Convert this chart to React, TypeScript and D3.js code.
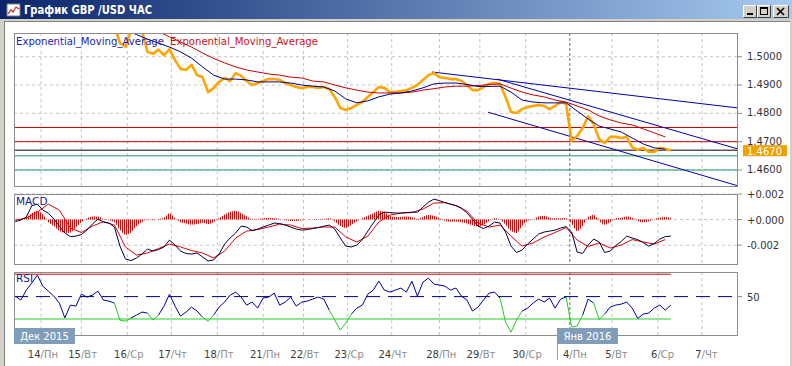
import * as d3 from 'd3';

// hourly bars, bar 0 = 14 Dec 00:00; every series sample is START_BAR + i*STEP
const START_BAR = -14;
const STEP = 3;
const EMA_STEP = 6;

const dayBars = [0, 22, 47, 71, 96, 121, 143, 167, 191, 217, 239, 264, 288, 311, 336, 360];
const dayNums = ['14', '15', '16', '17', '18', '21', '22', '23', '24', '28', '29', '30', '4', '5', '6', '7'];
const dayNames = ['Пн', 'Вт', 'Ср', 'Чт', 'Пт', 'Пн', 'Вт', 'Ср', 'Чт', 'Пн', 'Вт', 'Ср', 'Пн', 'Вт', 'Ср', 'Чт'];
const monthLabels = ['Дек 2015', 'Янв 2016'];
const monthBars = [-14.7, 281];
const monthSplitBar = 288;

const priceTicks = [1.5, 1.49, 1.48, 1.47, 1.46];
const macdTicks = [0.002, 0, -0.002];
const macdTickLabels = ['+0.002', '+0.000', '-0.002'];
const lastPrice = 1.467;

const redLevels = [1.475, 1.47];
const greenLevels = [1.465, 1.46];
const rsiLevels = [70, 50, 30];

// [bar1, price1, bar2, price2]
const trendLines = [
  [212.9, 1.4946, 379.6, 1.4819],
  [248.4, 1.4921, 379.6, 1.4674],
  [243.5, 1.4804, 379.6, 1.4544],
];

const close = [
  1.515, 1.516, 1.5175, 1.519, 1.5195, 1.517, 1.5155, 1.514, 1.512, 1.5105,
  1.5112, 1.511, 1.513, 1.5125, 1.513, 1.514, 1.5125, 1.512, 1.511, 1.5048,
  1.5035, 1.5092, 1.5098, 1.5091, 1.5017, 1.501, 1.5025, 1.5005, 1.5027, 1.4988,
  1.4957, 1.4953, 1.4971, 1.4935, 1.4928, 1.4875, 1.4889, 1.4911, 1.4925, 1.4914,
  1.4942, 1.4932, 1.4914, 1.49, 1.4907, 1.4914, 1.4921, 1.4921, 1.4918, 1.4907,
  1.49, 1.4893, 1.4889, 1.4893, 1.4893, 1.489, 1.4893, 1.4886, 1.4858, 1.4819,
  1.4812, 1.4819, 1.483, 1.484, 1.4858, 1.4875, 1.4893, 1.489, 1.4875, 1.4875,
  1.4879, 1.4882, 1.489, 1.49, 1.4918, 1.4935, 1.4942, 1.4928, 1.4925, 1.4921,
  1.4921, 1.4914, 1.49, 1.4882, 1.4882, 1.4893, 1.4904, 1.4907, 1.4904, 1.4858,
  1.4805, 1.4801, 1.4815, 1.4822, 1.4826, 1.483, 1.4826, 1.4815, 1.4826, 1.484,
  1.4833, 1.4702, 1.472, 1.4748, 1.479, 1.4762, 1.4709, 1.4695, 1.4717, 1.4717,
  1.4713, 1.4717, 1.4681, 1.4671, 1.4678, 1.4664, 1.4664, 1.4678, 1.4674, 1.467,
];

const emaFast = [
  1.514, 1.5145, 1.5155, 1.5158, 1.515, 1.514, 1.5132, 1.513, 1.5128, 1.5115,
  1.5095, 1.5078, 1.5062, 1.5048, 1.5034, 1.5017, 1.4995, 1.4964, 1.4935, 1.4921,
  1.4921, 1.4918, 1.4911, 1.4911, 1.4911, 1.4907, 1.49, 1.4896, 1.4893, 1.4879,
  1.4851, 1.4837, 1.4844, 1.4858, 1.4868, 1.4872, 1.4879, 1.489, 1.4904, 1.4907,
  1.4907, 1.4902, 1.4895, 1.4895, 1.4896, 1.4875, 1.4847, 1.484, 1.4837, 1.4837,
  1.4837, 1.4808, 1.478, 1.4755, 1.4745, 1.4734, 1.4713, 1.4692, 1.4678, 1.4674,
];

const emaSlow = [
  1.512, 1.5125, 1.513, 1.5135, 1.5135, 1.5133, 1.513, 1.5128, 1.5126, 1.5122,
  1.5115, 1.5105, 1.5095, 1.5089, 1.507, 1.5052, 1.5034, 1.5013, 1.4994, 1.4978,
  1.4964, 1.4953, 1.4946, 1.4939, 1.4935, 1.4928, 1.4925, 1.4914, 1.4911, 1.49,
  1.489, 1.4882, 1.4875, 1.4872, 1.4872, 1.4872, 1.4875, 1.4882, 1.4887, 1.4893,
  1.4896, 1.4896, 1.4898, 1.4902, 1.4904, 1.4889, 1.4875, 1.4865, 1.4858, 1.4847,
  1.484, 1.4826, 1.4812, 1.4791, 1.4777, 1.4766, 1.4759, 1.4745, 1.4731, 1.4717,
];

const macdMain = [
  -0.00016, -0.00004, 0.0002, 0.00109, 0.00121, 0.00074, 0.00051, 0.00004, -0.00051, -0.00105,
  -0.00133, -0.00129, -0.00117, -0.00082, -0.00035, 0.00004, -0.00019, -0.00027, -0.00058, -0.00207,
  -0.00308, -0.0032, -0.003, -0.00269, -0.0023, -0.00246, -0.00234, -0.00214, -0.0016, -0.00199,
  -0.00246, -0.00265, -0.00269, -0.00261, -0.00292, -0.00323, -0.00316, -0.00269, -0.00191, -0.00144,
  -0.00105, -0.00051, -0.00058, -0.00086, -0.00074, -0.00058, -0.00043, -0.00027, -0.00031, -0.00043,
  -0.00058, -0.00074, -0.00082, -0.00078, -0.0007, -0.00062, -0.00051, -0.00043, -0.00074, -0.00144,
  -0.00207, -0.00214, -0.00199, -0.00156, -0.0009, -0.00027, 0.00035, 0.00058, 0.00055, 0.00051,
  0.00051, 0.00055, 0.00058, 0.00058, 0.00097, 0.00136, 0.0016, 0.00148, 0.00133, 0.00121,
  0.00109, 0.0009, 0.00051, 0.00004, -0.00051, -0.0007, -0.00051, -0.00019, -0.00027, -0.00097,
  -0.00207, -0.00257, -0.00238, -0.00191, -0.00152, -0.00113, -0.00097, -0.0009, -0.00082, -0.00066,
  -0.00055, -0.00097, -0.00253, -0.00265, -0.00199, -0.00152, -0.00175, -0.00257, -0.00246, -0.00203,
  -0.00171, -0.00129, -0.00144, -0.00156, -0.00179, -0.00207, -0.00187, -0.00152, -0.00133, -0.00129,
];

const macdSignal = [
  -0.00004, 0.00012, 0.00058, 0.00121, 0.00074, -0.00066, -0.00101, -0.00051, -0.00016, -0.00043,
  -0.00214, -0.00277, -0.00261, -0.00226, -0.00191, -0.00214, -0.00242, -0.00261, -0.003, -0.00246,
  -0.00144, -0.0009, -0.00078, -0.00058, -0.00035, -0.00043, -0.0007, -0.00066, -0.00058, -0.00058,
  -0.00136, -0.00175, -0.00129, -0.00019, 0.00035, 0.00051, 0.00055, 0.00082, 0.00129, 0.00133,
  0.00109, 0.00066, -0.00027, -0.00058, -0.00043, -0.00129, -0.00207, -0.00183, -0.00136, -0.00101,
  -0.00062, -0.0016, -0.0021, -0.00183, -0.00222, -0.00199, -0.00156, -0.00175, -0.00191, -0.00156,
];

const macdHist = [
  -0.00005, -0.00003, 0.0002, 0.0005, 0.0007, 0.0004, -0.0002, -0.0005, -0.0009, -0.00105,
  -0.001, -0.0006, -0.0002, 0.0001, 0.00025, 0.00025, 0.00005, -0.00005, -0.0002, -0.0008,
  -0.0012, -0.001, -0.0005, -0.0002, 0.00005, -0.00005, 0.00005, 0.00015, 0.0005, 0.0001,
  -0.0002, -0.0003, -0.0004, -0.00035, -0.00025, -0.00035, -0.0002, 0.0001, 0.0004, 0.0006,
  0.0007, 0.0005, 0.00025, 0.00005, 0.00005, 0.0001, 0.00015, 0.0001, 0.00005, -0.00005,
  -0.0001, -0.0001, -0.00005, 0, 0.00005, 0.00005, 0.00005, 0.0001, -0.00015, -0.0005,
  -0.00065, -0.0004, -0.00015, 0.0001, 0.0003, 0.0005, 0.0007, 0.0006, 0.0003, 0.0002,
  0.0002, 0.00025, 0.0002, 0.00005, 0.0002, 0.00035, 0.0003, 0.0001, -0.0001, -0.00015,
  -0.00015, -0.0002, -0.0003, -0.00045, -0.00055, -0.0004, -0.0001, 0.0001, 0, -0.0004,
  -0.0009, -0.00105, -0.0005, -0.0001, 0, 0.00025, 0.0003, 0.00015, 0.0001, 0.0001,
  0.0001, -0.0003, -0.0009, -0.0005, 0.0002, 0.00035, -0.0001, -0.0004, -0.0002, 0.0001,
  0.00015, 0.00025, 0.00015, -0.0001, -0.0002, -0.00015, 0.00005, 0.00015, 0.0002, 0.00015,
];

const rsi = [
  50.4, 46.9, 55.8, 62.1, 69.2, 59.4, 54.9, 50.4, 44.2, 31.0,
  42.4, 41.5, 52.2, 49.6, 51.3, 54.9, 46.9, 46.0, 44.2, 29.0,
  28.1, 30.8, 33.5, 36.2, 35.3, 29.0, 33.5, 41.5, 52.2, 41.5,
  32.6, 36.2, 40.6, 37.1, 31.7, 28.1, 33.5, 40.6, 45.1, 51.3,
  54.0, 49.6, 42.4, 45.1, 39.7, 48.7, 49.6, 53.1, 42.4, 45.1,
  49.6, 41.5, 45.1, 46.0, 47.8, 49.6, 47.8, 37.9, 29.0, 20.1,
  26.3, 34.4, 39.7, 42.4, 52.2, 55.8, 63.8, 55.8, 54.0, 55.8,
  57.6, 54.0, 63.8, 50.4, 62.9, 66.5, 61.2, 60.3, 59.4, 55.8,
  57.6, 50.4, 46.9, 37.1, 40.6, 46.9, 53.1, 54.0, 48.7, 27.2,
  18.3, 29.0, 37.1, 39.7, 44.2, 47.8, 45.1, 48.7, 39.7, 47.8,
  49.6, 22.8, 23.7, 33.5, 47.8, 44.2, 29.5, 34.4, 40.6, 42.4,
  43.3, 45.1, 39.7, 30.5, 34.4, 35.3, 39.7, 42.4, 37.9, 42.4,
];

const W = 792;
const H = 366;
const L = 14;
const R = 738;
const mainP = { top: 33, bottom: 187 };
const macdP = { top: 194, bottom: 265 };
const rsiP = { top: 272, bottom: 336 };
const FONT = 'DejaVu Sans, Verdana, sans-serif';
const GRID = '#c4c4c4';
const BORDER = '#8c8c8c';

const x = d3.scaleLinear().domain([0, 360]).range([41, 702]);
const yP = d3.scaleLinear().domain([1.46, 1.5]).range([170, 56.7]);
const yM = d3.scaleLinear().domain([-0.002, 0.002]).range([245.2, 194]);
const yR = d3.scaleLinear().domain([30, 70]).range([319, 274.2]);

const barAt = (i: number, step: number) => START_BAR + i * step;

function seriesLine(y: d3.ScaleLinear<number, number>, step: number) {
  return d3
    .line<number>()
    .x((d, i) => x(barAt(i, step)))
    .y((d) => y(d));
}

function Panel({ id, top, bottom }: { id: string; top: number; bottom: number }) {
  return (
    <g>
      <clipPath id={id}>
        <rect x={L} y={top} width={R - L} height={bottom - top} />
      </clipPath>
      {dayBars.map((b, i) =>
        b === monthSplitBar ? null : (
          <line key={i} x1={x(b)} x2={x(b)} y1={top} y2={bottom} stroke={GRID} strokeDasharray="3,3" />
        ),
      )}
      <line x1={x(monthSplitBar)} x2={x(monthSplitBar)} y1={top} y2={bottom} stroke="#6e6e6e" strokeDasharray="3,2" />
    </g>
  );
}

function Button({ bx, w, kind }: { bx: number; w: number; kind: string }) {
  const by = 5;
  const h = 13;
  return (
    <g>
      <rect x={bx} y={by} width={w} height={h} fill="#d4d0c8" />
      <path d={`M${bx + 0.5},${by + h - 0.5}V${by + 0.5}H${bx + w - 0.5}`} stroke="#fff" fill="none" />
      <path d={`M${bx + 0.5},${by + h - 0.5}H${bx + w - 0.5}V${by + 0.5}`} stroke="#404040" fill="none" />
      {kind === 'min' && <rect x={bx + 4} y={by + 8} width={6} height={2} fill="#000" />}
      {kind === 'max' && (
        <g>
          <rect x={bx + 3.5} y={by + 2.5} width={7} height={7} fill="none" stroke="#000" />
          <rect x={bx + 3} y={by + 2} width={8} height={2} fill="#000" />
        </g>
      )}
      {kind === 'close' && (
        <path
          d={`M${bx + 4},${by + 3}L${bx + w - 5},${by + h - 3}M${bx + w - 5},${by + 3}L${bx + 4},${by + h - 3}`}
          stroke="#000"
          strokeWidth={1.6}
        />
      )}
    </g>
  );
}

export default function App() {
  const priceLine = seriesLine(yP, STEP)(close) ?? '';
  const fastLine = seriesLine(yP, EMA_STEP)(emaFast) ?? '';
  const slowLine = seriesLine(yP, EMA_STEP)(emaSlow) ?? '';
  const macdLine = seriesLine(yM, STEP)(macdMain) ?? '';
  const signalLine = seriesLine(yM, EMA_STEP)(macdSignal) ?? '';
  const histArea =
    d3
      .area<number>()
      .x((d, i) => x(barAt(i, STEP)))
      .y0(yM(0))
      .y1((d) => yM(d))
      .curve(d3.curveMonotoneX)(macdHist) ?? '';

  // RSI drawn segment by segment, green where it dips under 30
  const rsiSegs = rsi.slice(1).map((v, i) => {
    const prev = rsi[i];
    return {
      d: `M${x(barAt(i, STEP))},${yR(prev)}L${x(barAt(i + 1, STEP))},${yR(v)}`,
      low: v < 30 || prev < 30,
    };
  });

  const lastX = x(barAt(rsi.length - 1, STEP));

  return (
    <div style={{ position: 'absolute', left: 0, top: 0 }}>
      <svg width={W} height={H} style={{ display: 'block' }} fontFamily={FONT}>
        <defs>
          <linearGradient id="titleGrad" x1="0" x2="1" y1="0" y2="0">
            <stop offset="0" stopColor="#0a246a" />
            <stop offset="1" stopColor="#a6caf0" />
          </linearGradient>
          <pattern id="histHatch" width="2" height="4" patternUnits="userSpaceOnUse">
            <rect x="0" y="0" width="1" height="4" fill="#e00000" />
          </pattern>
        </defs>

        {/* window frame */}
        <rect x={0} y={0} width={W} height={H} fill="#d4d0c8" />
        <rect x={0} y={0} width={W} height={19} fill="url(#titleGrad)" />
        <rect x={5} y={22} width={W - 7} height={H - 22} fill="#fff" />
        <line x1={4.5} x2={4.5} y1={21} y2={H} stroke="#808080" />
        <line x1={4} x2={W - 2} y1={21.5} y2={21.5} stroke="#808080" />

        {/* title */}
        <rect x={7} y={4} width={13} height={12} fill="#fff" stroke="#7a7a7a" />
        <path d="M8,14L11,10L13,12L16,7L19,9" stroke="#d02020" fill="none" strokeWidth={1.2} />
        <text x={24} y={14} fill="#fff" fontWeight="bold" fontSize={11.5} textLength={128} lengthAdjust="spacingAndGlyphs">
          График GBP /USD  ЧАС
        </text>
        <Button bx={743} w={14} kind="min" />
        <Button bx={757} w={14} kind="max" />
        <Button bx={773} w={16} kind="close" />

        {/* ---------- main panel ---------- */}
        <Panel id="clipMain" top={mainP.top} bottom={mainP.bottom} />
        {priceTicks.map((t) => (
          <g key={t}>
            <line x1={L} x2={R} y1={yP(t)} y2={yP(t)} stroke={GRID} strokeDasharray="3,3" />
            <line x1={R} x2={R + 4} y1={yP(t)} y2={yP(t)} stroke={BORDER} />
            <text x={747} y={yP(t) + 3} fontSize={10} fill="#333">
              {t.toFixed(4)}
            </text>
          </g>
        ))}
        <g clipPath="url(#clipMain)">
          {redLevels.map((p) => (
            <line key={p} x1={L} x2={R} y1={yP(p)} y2={yP(p)} stroke="#d00000" />
          ))}
          {greenLevels.map((p) => (
            <line key={p} x1={L} x2={R} y1={yP(p)} y2={yP(p)} stroke="#229966" />
          ))}
          <line x1={L} x2={R} y1={yP(lastPrice)} y2={yP(lastPrice)} stroke="#000" />
          {trendLines.map((t, i) => (
            <line key={i} x1={x(t[0])} y1={yP(t[1])} x2={x(t[2])} y2={yP(t[3])} stroke="#0000b0" />
          ))}
          <path d={priceLine} fill="none" stroke="#ffa500" strokeWidth={2.6} strokeLinejoin="round" />
          <path d={slowLine} fill="none" stroke="#c80000" strokeWidth={1} />
          <path d={fastLine} fill="none" stroke="#000090" strokeWidth={1} />
        </g>
        <rect x={L + 0.5} y={mainP.top + 0.5} width={R - L - 1} height={mainP.bottom - mainP.top - 1} fill="none" stroke={BORDER} />
        <text x={16} y={45} fontSize={10} fill="#1a1ab4" textLength={148} lengthAdjust="spacingAndGlyphs">
          Exponential_Moving_Average
        </text>
        <text x={170} y={45} fontSize={10} fill="#d01010" textLength={148} lengthAdjust="spacingAndGlyphs">
          Exponential_Moving_Average
        </text>
        <rect x={743} y={yP(lastPrice) - 5} width={44} height={11} fill="#f0a000" />
        <text x={747} y={yP(lastPrice) + 4.5} fontSize={10} fill="#fff">
          {lastPrice.toFixed(4)}
        </text>

        {/* ---------- MACD panel ---------- */}
        <Panel id="clipMacd" top={macdP.top} bottom={macdP.bottom} />
        {macdTicks.map((t, i) => (
          <g key={t}>
            <line x1={L} x2={R} y1={yM(t)} y2={yM(t)} stroke={GRID} strokeDasharray="3,3" />
            <line x1={R} x2={R + 4} y1={yM(t)} y2={yM(t)} stroke={BORDER} />
            <text x={747} y={yM(t) + 4} fontSize={10} fill="#333">
              {macdTickLabels[i]}
            </text>
          </g>
        ))}
        <g clipPath="url(#clipMacd)">
          <path d={histArea} fill="url(#histHatch)" />
          <path d={signalLine} fill="none" stroke="#e00000" strokeWidth={1} />
          <path d={macdLine} fill="none" stroke="#00003c" strokeWidth={1} />
        </g>
        <rect x={L + 0.5} y={macdP.top + 0.5} width={R - L - 1} height={macdP.bottom - macdP.top - 1} fill="none" stroke={BORDER} />
        <text x={16} y={205} fontSize={10.5} fill="#1a1a8c">
          MACD
        </text>

        {/* ---------- RSI panel ---------- */}
        <Panel id="clipRsi" top={rsiP.top} bottom={rsiP.bottom} />
        <g clipPath="url(#clipRsi)">
          <line x1={L} x2={lastX} y1={yR(rsiLevels[0])} y2={yR(rsiLevels[0])} stroke="#e00000" />
          <line x1={L} x2={R} y1={yR(rsiLevels[1])} y2={yR(rsiLevels[1])} stroke="#000080" strokeDasharray="14,8" />
          <line x1={L} x2={lastX} y1={yR(rsiLevels[2])} y2={yR(rsiLevels[2])} stroke="#22cc22" />
          {rsiSegs.map((s, i) => (
            <path key={i} d={s.d} fill="none" stroke={s.low ? '#22cc22' : '#0000a0'} strokeWidth={1} />
          ))}
        </g>
        <rect x={L + 0.5} y={rsiP.top + 0.5} width={R - L - 1} height={rsiP.bottom - rsiP.top - 1} fill="none" stroke={BORDER} />
        <line x1={R} x2={R + 4} y1={yR(50)} y2={yR(50)} stroke={BORDER} />
        <text x={747} y={yR(50) + 4} fontSize={10} fill="#333">
          50
        </text>
        <text x={16} y={282} fontSize={10.5} fill="#1a1a8c">
          RSI
        </text>

        {/* ---------- time axis ---------- */}
        {dayBars.map((b, i) => (
          <text key={i} x={x(b) - 0.5} y={358} fontSize={10} fill="#3c3c3c" textAnchor="end">
            {dayNums[i]}
          </text>
        ))}
        {dayBars.map((b, i) => (
          <text key={'n' + i} x={x(b) - 0.5} y={358} fontSize={10} fill="#8c8c8c">
            /{dayNames[i]}
          </text>
        ))}
        {monthBars.map((b, i) => (
          <g key={i}>
            <rect x={x(b)} y={328} width={61} height={16} fill="#7f9db9" />
            <text x={x(b) + 30.5} y={340} fontSize={10} fill="#fff" textAnchor="middle">
              {monthLabels[i]}
            </text>
          </g>
        ))}
        <line x1={x(monthBars[1]) + 0.5} x2={x(monthBars[1]) + 0.5} y1={344} y2={360} stroke="#a0a0a0" />
      </svg>
    </div>
  );
}
